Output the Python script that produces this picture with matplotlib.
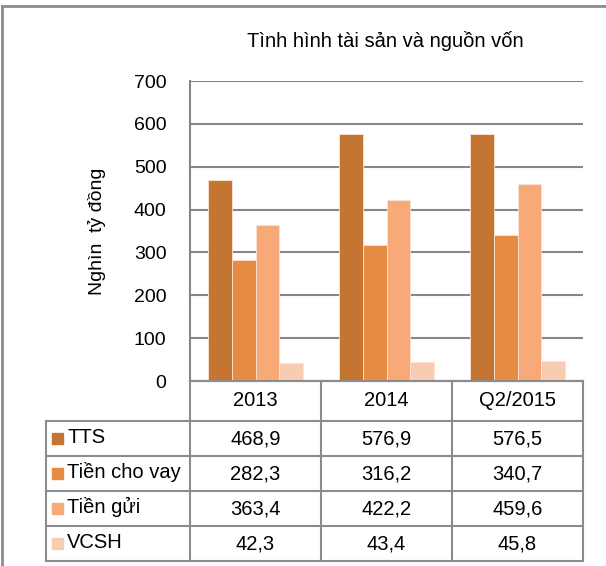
import numpy as np
import matplotlib.pyplot as plt
from matplotlib.lines import Line2D
from matplotlib.patches import Rectangle

plt.rcParams['font.family'] = ['Liberation Sans', 'DejaVu Sans']

# data
categories = ['2013', '2014', 'Q2/2015']
series = ['TTS', 'Tiền cho vay', 'Tiền gửi', 'VCSH']
tts = [468.9, 576.9, 576.5]
cho_vay = [282.3, 316.2, 340.7]
tien_gui = [363.4, 422.2, 459.6]
vcsh = [42.3, 43.4, 45.8]
values = [tts, cho_vay, tien_gui, vcsh]
colors = ['#C47532', '#E68C42', '#F7A977', '#F9CBB3']

W, H = 606, 566
fig = plt.figure(figsize=(W / 100, H / 100), dpi=100)

def fx(px):
    return px / W

def fy(py):
    return 1 - py / H

grid_c = '#878787'

# plot area
x0, x1, ytop, ybot = 190, 583, 81, 381
ax = fig.add_axes([fx(x0), fy(ybot), fx(x1) - fx(x0), fy(ytop) - fy(ybot)])
x = np.arange(len(categories))
w = 0.183
for i, (vals, c) in enumerate(zip(values, colors)):
    ax.bar(x + (i - 1.5) * w, vals, width=w, color=c, edgecolor='#FBE3D6', linewidth=0.6, zorder=3)
ax.set_xlim(-0.5, 2.5)
ax.set_ylim(0, 700)
ax.set_yticks(range(0, 701, 100))
ax.set_xticks([])
ax.grid(axis='y', color=grid_c, linewidth=1.5, zorder=0)
for s in ['top', 'right']:
    ax.spines[s].set_visible(False)
for s in ['left', 'bottom']:
    ax.spines[s].set_color(grid_c)
    ax.spines[s].set_linewidth(1.5)
ax.tick_params(axis='y', length=0, pad=17, labelsize=14)
ax.set_ylabel('Nghìn  tỷ đồng', fontsize=14, labelpad=20)

fig.text(fx(385), fy(41), 'Tình hình tài sản và nguồn vốn', ha='center', va='center', fontsize=14.5)

# outer frame (top and left)
fig.add_artist(Line2D([fx(2.5), fx(606)], [fy(5.5), fy(5.5)], color='#8C8C8C', linewidth=2))
fig.add_artist(Line2D([fx(2.5), fx(2.5)], [fy(5.5), fy(566)], color='#8C8C8C', linewidth=2))

# data table
cols = [190, 321, 452, 583]
rows = [381, 420.5, 456, 490.5, 525.5, 560.5]
left = 45.5
lc = '#8C8C8C'
lw = 1.5

def hline(y, xa, xb):
    fig.add_artist(Line2D([fx(xa), fx(xb)], [fy(y), fy(y)], color=lc, linewidth=lw))

def vline(xp, ya, yb):
    fig.add_artist(Line2D([fx(xp), fx(xp)], [fy(ya), fy(yb)], color=lc, linewidth=lw))

hline(rows[0], cols[0], cols[-1])
for r in rows[1:]:
    hline(r, left, cols[-1])
for c in cols:
    vline(c, rows[0], rows[-1])
vline(left, rows[1], rows[-1])

for j, cat in enumerate(categories):
    cx = (cols[j] + cols[j + 1]) / 2
    fig.text(fx(cx), fy((rows[0] + rows[1]) / 2), cat, ha='center', va='center', fontsize=14.5)

for i, (name, vals, c) in enumerate(zip(series, values, colors)):
    yc = (rows[i + 1] + rows[i + 2]) / 2
    fig.add_artist(Rectangle((fx(52), fy(yc + 5.5)), fx(11), fy(0) - fy(11), color=c,
                             transform=fig.transFigure))
    fig.text(fx(67), fy(yc - 1), name, ha='left', va='center', fontsize=14.5)
    for j, v in enumerate(vals):
        cx = (cols[j] + cols[j + 1]) / 2
        fig.text(fx(cx), fy(yc + 1), f'{v:.1f}'.replace('.', ','), ha='center', va='center', fontsize=14.5)

fig.savefig('out.png', dpi=100)
